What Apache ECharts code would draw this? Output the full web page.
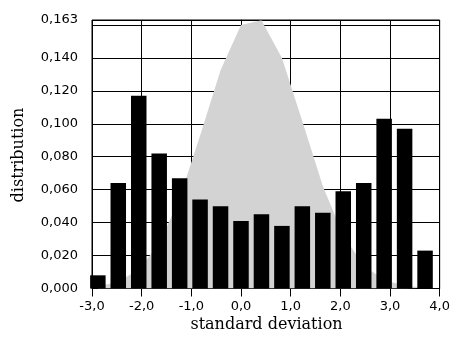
<!DOCTYPE html>
<html>
<head>
<meta charset="utf-8">
<script src="https://cdn.jsdelivr.net/npm/echarts@6/dist/echarts.min.js"></script>
<style>
html,body{margin:0;padding:0;background:#fff;}
#chart{width:453px;height:338px;}
</style>
</head>
<body>
<div id="chart"></div>
<script>
// bin centres (standard deviation)
var binCenters = [-2.882, -2.471, -2.059, -1.647, -1.235, -0.824, -0.412, 0.000, 0.412, 0.824, 1.235, 1.647, 2.059, 2.471, 2.882, 3.294, 3.706];
// histogram bars (distribution)
var barValues = [0.008, 0.064, 0.117, 0.082, 0.067, 0.054, 0.050, 0.041, 0.045, 0.038, 0.050, 0.046, 0.059, 0.064, 0.103, 0.097, 0.023];
// grey reference curve (distribution)
var curveValues = [0.0012, 0.0041, 0.0115, 0.0273, 0.0548, 0.0927, 0.1325, 0.1599, 0.1629, 0.1399, 0.1016, 0.0622, 0.0321, 0.0140, 0.0052, 0.0016, 0.0004];
// y-axis ticks and labels
var yTicks = [0, 0.02, 0.04, 0.06, 0.08, 0.10, 0.12, 0.14, 0.16, 0.163];
var yLabels = [0, 0.02, 0.04, 0.06, 0.08, 0.10, 0.12, 0.14, 0.163];
var xTitle = 'standard deviation';
var yTitle = 'distribution';

var barData = binCenters.map(function (x, i) { return [x, barValues[i]]; });
var curveData = binCenters.map(function (x, i) { return [x, curveValues[i]]; });

var chart = echarts.init(document.getElementById('chart'), null, {renderer: 'canvas'});
var labelFont = {color: '#000', fontFamily: 'DejaVu Sans', fontSize: 13};
var titleFont = '16px "DejaVu Serif"';
chart.setOption({
  animation: false,
  backgroundColor: '#fff',
  grid: {left: 92, top: 20, width: 350, height: 268.5, show: true, borderColor: '#000', borderWidth: 1, backgroundColor: '#fff'},
  xAxis: {
    type: 'value', min: -3, max: 4, interval: 1,
    axisLine: {show: true, onZero: false, lineStyle: {color: '#000', width: 1}},
    axisTick: {show: true, length: 8, lineStyle: {color: '#000'}},
    splitLine: {show: true, lineStyle: {color: '#000', width: 1}},
    axisLabel: Object.assign({margin: 12, formatter: function (v) { return v.toFixed(1).replace('.', ','); }}, labelFont)
  },
  yAxis: {
    type: 'value', min: 0, max: 0.163,
    axisLine: {show: true, lineStyle: {color: '#000', width: 1}},
    axisTick: {show: true, length: 11, customValues: yTicks, lineStyle: {color: '#000'}},
    splitLine: {show: true, lineStyle: {color: '#000', width: 1}},
    axisLabel: Object.assign({margin: 14, customValues: yLabels, formatter: function (v) {
      return v.toFixed(3).replace('.', ',');
    }}, labelFont)
  },
  graphic: [
    {type: 'text', x: 266.5, y: 325, style: {text: xTitle, fill: '#000', font: titleFont, textAlign: 'center', textVerticalAlign: 'middle'}},
    {type: 'text', x: 18.5, y: 155, rotation: Math.PI / 2, style: {text: yTitle, fill: '#000', font: titleFont, textAlign: 'center', textVerticalAlign: 'middle'}}
  ],
  series: [
    {
      type: 'line', data: curveData, symbol: 'none', z: 2,
      lineStyle: {width: 0, color: '#d3d3d3'},
      areaStyle: {color: '#d3d3d3', opacity: 1}
    },
    {
      type: 'bar', data: barData, barWidth: 15.5, z: 3,
      itemStyle: {color: '#000'}
    }
  ]
});
</script>
</body>
</html>
